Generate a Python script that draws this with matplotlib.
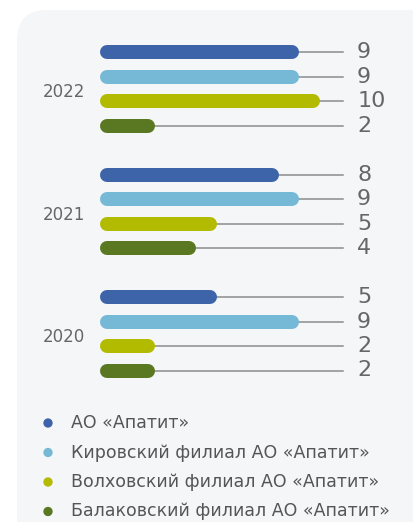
import matplotlib
matplotlib.use("Agg")
import matplotlib.pyplot as plt
from matplotlib.patches import FancyBboxPatch
from matplotlib.transforms import IdentityTransform

years = ["2022", "2021", "2020"]
series = ["АО «Апатит»", "Кировский филиал АО «Апатит»",
          "Волховский филиал АО «Апатит»", "Балаковский филиал АО «Апатит»"]
values = {
    "2022": [9, 9, 10, 2],
    "2021": [8, 9, 5, 4],
    "2020": [5, 9, 2, 2],
}
colors = ["#3d63a8", "#75b9d6", "#b2bb00", "#5a7822"]

plt.rcParams['font.family'] = ['DejaVu Sans']
W, H = 414, 522
fig = plt.figure(figsize=(W / 100, H / 100), dpi=100)
fig.patch.set_facecolor("white")

panel = FancyBboxPatch((17, -40), 480, H - 10 + 40,
                       boxstyle="round,pad=0,rounding_size=30",
                       transform=IdentityTransform(),
                       facecolor="#f5f6f8", edgecolor="none", zorder=0)
fig.add_artist(panel)

ax = fig.add_axes([0, 0, 1, 1])
ax.set_facecolor("none")
ax.axis("off")
px_per_unit = 20.6
x0_px = 107
slot_px = 24.5
y0_px = 52
ax.set_xlim(-x0_px / px_per_unit, (W - x0_px) / px_per_unit)
ax.set_ylim((H - y0_px) / slot_px, -y0_px / slot_px)

bar_lw = 14 * 72 / 100
leader_end = 11.46
label_x = 12.14
for g, yr in enumerate(years):
    base = g * 5
    for i, v in enumerate(values[yr]):
        y = base + i
        ax.plot([v, leader_end], [y, y], color="#8c8c8c", lw=1.1, zorder=1)
        ax.plot([0, v], [y, y], color=colors[i], lw=bar_lw,
                solid_capstyle="round", zorder=2)
        ax.text(label_x, y, str(v), fontsize=16, color="#666666",
                va="center", ha="left")
    ax.text(-22 / px_per_unit, base + 1.65, yr, fontsize=12, color="#666666",
            va="center", ha="right")

leg_y0 = (423 - y0_px) / slot_px
leg_dy = 29.5 / slot_px
for i, s in enumerate(series):
    y = leg_y0 + i * leg_dy
    ax.scatter([(48 - x0_px) / px_per_unit], [y], s=45, color=colors[i],
               edgecolors="none", zorder=3)
    ax.text((71 - x0_px) / px_per_unit, y, s, fontsize=12.5, color="#555555",
            va="center", ha="left")

fig.savefig("out.png", dpi=100)
